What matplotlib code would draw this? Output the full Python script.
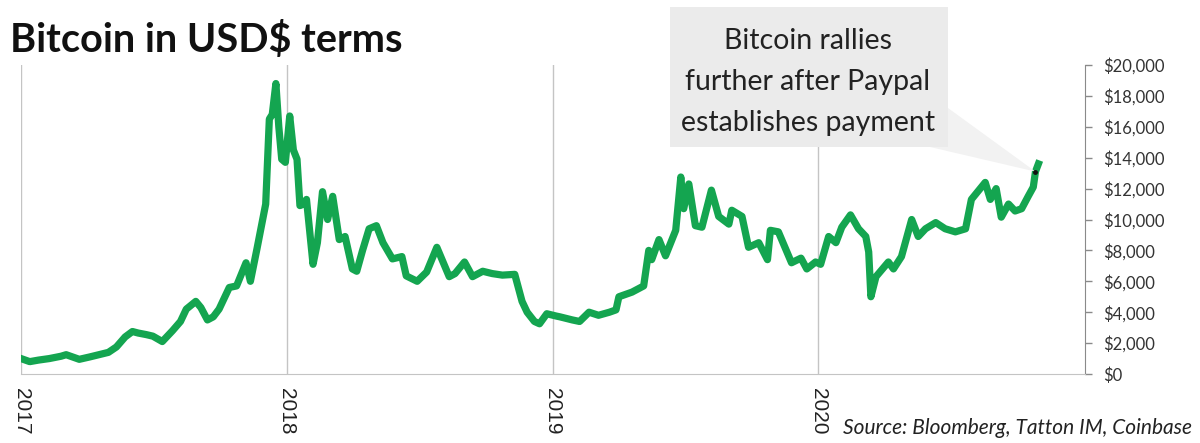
import matplotlib
matplotlib.use('Agg')

import matplotlib.pyplot as plt
import matplotlib.dates as mdates
from matplotlib.patches import Polygon, Rectangle
from matplotlib.ticker import FuncFormatter
import pandas as pd

# Bitcoin price (USD)
dates = [
    '2017-01-01', '2017-01-13', '2017-01-25', '2017-02-09', '2017-02-25', '2017-03-04',
    '2017-03-22', '2017-04-05', '2017-04-18', '2017-05-01', '2017-05-12', '2017-05-24',
    '2017-06-03', '2017-06-11', '2017-06-22', '2017-07-01', '2017-07-14', '2017-07-28',
    '2017-08-08', '2017-08-16', '2017-08-29', '2017-09-05', '2017-09-14', '2017-09-22',
    '2017-09-30', '2017-10-14', '2017-10-24', '2017-11-06', '2017-11-12', '2017-11-21',
    '2017-11-28', '2017-12-03', '2017-12-08', '2017-12-12', '2017-12-17', '2017-12-21',
    '2017-12-25', '2017-12-30', '2018-01-05', '2018-01-10', '2018-01-15', '2018-01-19',
    '2018-01-24', '2018-01-28', '2018-02-06', '2018-02-12', '2018-02-19', '2018-02-26',
    '2018-03-05', '2018-03-14', '2018-03-22', '2018-04-01', '2018-04-07', '2018-04-15',
    '2018-04-24', '2018-05-04', '2018-05-13', '2018-05-26', '2018-06-08', '2018-06-14',
    '2018-06-29', '2018-07-12', '2018-07-26', '2018-08-12', '2018-08-20', '2018-09-02',
    '2018-09-13', '2018-09-27', '2018-10-10', '2018-10-24', '2018-11-10', '2018-11-20',
    '2018-11-27', '2018-12-07', '2018-12-14', '2018-12-24', '2019-01-06', '2019-01-11',
    '2019-01-28', '2019-02-07', '2019-02-20', '2019-03-05', '2019-03-20', '2019-03-29',
    '2019-04-02', '2019-04-20', '2019-05-06', '2019-05-13', '2019-05-17', '2019-05-27',
    '2019-06-05', '2019-06-19', '2019-06-26', '2019-06-30', '2019-07-07', '2019-07-16',
    '2019-07-25', '2019-08-07', '2019-08-17', '2019-08-31', '2019-09-04', '2019-09-18',
    '2019-09-27', '2019-10-11', '2019-10-23', '2019-10-27', '2019-11-07', '2019-11-25',
    '2019-12-08', '2019-12-16', '2019-12-28', '2020-01-04', '2020-01-15', '2020-01-25',
    '2020-02-02', '2020-02-14', '2020-02-25', '2020-03-06', '2020-03-10', '2020-03-13',
    '2020-03-20', '2020-04-06', '2020-04-13', '2020-04-24', '2020-05-08', '2020-05-17',
    '2020-05-27', '2020-06-10', '2020-06-23', '2020-07-07', '2020-07-21', '2020-07-29',
    '2020-08-17', '2020-08-24', '2020-09-01', '2020-09-08', '2020-09-18', '2020-09-27',
    '2020-10-06', '2020-10-15', '2020-10-22', '2020-10-25', '2020-10-29',
]
prices = [
    1000, 800, 900, 1000, 1150, 1250,
    950, 1100, 1250, 1400, 1750, 2400,
    2750, 2650, 2550, 2450, 2100, 2800,
    3400, 4200, 4700, 4300, 3500, 3700,
    4200, 5600, 5700, 7200, 6000, 8100,
    9800, 11000, 16500, 16800, 18800, 16000,
    13900, 13700, 16700, 14500, 13900, 10900,
    11000, 11300, 7100, 8500, 11800, 10000,
    11500, 8700, 8900, 6800, 6650, 8000,
    9400, 9600, 8500, 7450, 7600, 6350,
    6000, 6600, 8200, 6300, 6500, 7250,
    6300, 6650, 6500, 6400, 6450, 4700,
    4000, 3400, 3250, 3900, 3750, 3700,
    3500, 3400, 4000, 3800, 4000, 4150,
    5000, 5300, 5700, 8000, 7400, 8700,
    7650, 9300, 12750, 10700, 12300, 9600,
    9500, 11900, 10200, 9700, 10600, 10200,
    8200, 8500, 7400, 9300, 9200, 7200,
    7500, 6800, 7250, 7100, 8900, 8500,
    9500, 10300, 9400, 8900, 7900, 5000,
    6300, 7250, 6800, 7600, 10000, 8900,
    9400, 9800, 9400, 9200, 9400, 11300,
    12400, 11300, 12000, 10150, 11000, 10550,
    10700, 11500, 12100, 13100, 13600,
]

year_ticks = ['2017', '2018', '2019', '2020']
callout_lines = ['Bitcoin rallies', 'further after Paypal', 'establishes payment']

W, H = 1200, 443
fig = plt.figure(figsize=(W / 100, H / 100), dpi=100)
ax = fig.add_axes([21 / W, 1 - 374 / H, (1085 - 21) / W, (374 - 65) / H])

x = pd.to_datetime(dates)
ax.plot(x, prices, color='#14a550', lw=5.2, solid_joinstyle='round', zorder=3)

ax.set_xlim(pd.Timestamp('2017-01-01'), pd.Timestamp('2021-01-01'))
ax.set_ylim(0, 20000)

# year gridlines, no horizontal grid
ax.set_xticks(pd.to_datetime(year_ticks))
ax.set_xticklabels(year_ticks, rotation=-90, family='Liberation Sans',
                   fontsize=15, color='#222222')
ax.tick_params(axis='x', length=0, pad=10)
ax.grid(axis='x', color='#c4c4c4', lw=1)
ax.set_axisbelow(True)

ax.yaxis.tick_right()
ax.set_yticks(range(0, 20001, 2000))
ax.yaxis.set_major_formatter(FuncFormatter(lambda v, p: '${:,.0f}'.format(v)))
ax.tick_params(axis='y', length=5, width=1, color='#8a8a8a', pad=8,
               labelsize=12, labelcolor='#333333')
for lab in ax.get_yticklabels():
    lab.set_family('Lato')

ax.spines['top'].set_visible(False)
ax.spines['left'].set_visible(False)
ax.spines['right'].set_color('#8a8a8a')
ax.spines['bottom'].set_color('#c4c4c4')

# overlay in pixel coordinates for title, callout and source
ov = fig.add_axes([0, 0, 1, 1], zorder=5)
ov.set_xlim(0, W)
ov.set_ylim(H, 0)
ov.axis('off')
ov.patch.set_alpha(0)

ov.text(10, 40, 'Bitcoin in USD$ terms', family='Lato', fontweight='bold',
        fontsize=28.5, color='#111111', va='center', ha='left')

# callout pointing at the latest rally
tip_disp = ax.transData.transform((mdates.date2num(x[-2]), prices[-2]))
tip = (tip_disp[0], H - tip_disp[1])
ov.add_patch(Polygon([(948, 108), (930, 147), tip], closed=True,
                     facecolor='#f2f2f2', edgecolor='none'))
ov.add_patch(Rectangle((670, 7), 278, 140, facecolor='#ebebeb', edgecolor='none'))
for i, line in enumerate(callout_lines):
    ov.text(808, 41 + i * 41, line, family='Lato', fontsize=20.5,
            color='#222222', ha='center', va='center')
ov.plot([tip[0]], [tip[1]], marker='o', ms=2.5, color='#111111')

ov.text(1192, 428, 'Source: Bloomberg, Tatton IM, Coinbase', family='Lato',
        style='italic', fontsize=15, color='#222222', ha='right', va='center')

fig.savefig('out.png', dpi=100)
